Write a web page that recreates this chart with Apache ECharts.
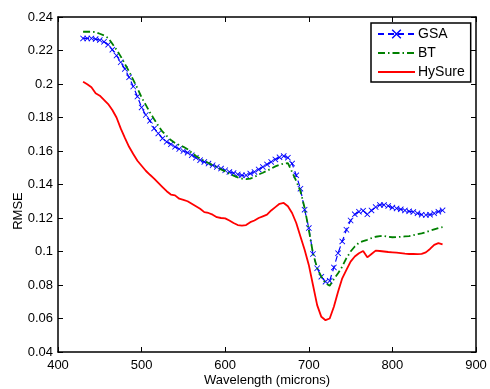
<!DOCTYPE html>
<html>
<head>
<meta charset="utf-8">
<script src="https://cdn.jsdelivr.net/npm/echarts@6/dist/echarts.min.js"></script>
<style>
html,body{margin:0;padding:0;background:#fff;}
#chart{width:490px;height:389px;}
</style>
</head>
<body>
<div id="chart"></div>
<script>
const wavelengths = [430,435,440,445,450,455,460,465,470,475,480,485,490,495,500,505,510,515,520,525,530,535,540,545,550,555,560,565,570,575,580,585,590,595,600,605,610,615,620,625,630,635,640,645,650,655,660,665,670,675,680,685,690,695,700,705,710,715,720,725,730,735,740,745,750,755,760,765,770,775,780,785,790,795,800,805,810,815,820,825,830,835,840,845,850,855,860];

const gsa = [0.2272,0.2272,0.2272,0.2268,0.2262,0.2252,0.2235,0.2205,0.2170,0.2130,0.2090,0.2040,0.1985,0.1925,0.1860,0.1815,0.1780,0.1735,0.1705,0.1675,0.1655,0.1640,0.1625,0.1612,0.1600,0.1590,0.1575,0.1560,0.1545,0.1535,0.1525,0.1515,0.1505,0.1495,0.1485,0.1475,0.1468,0.1460,0.1455,0.1455,0.1465,0.1475,0.1490,0.1505,0.1520,0.1535,0.1550,0.1562,0.1570,0.1560,0.1525,0.1455,0.1375,0.1250,0.1140,0.0985,0.0900,0.0850,0.0820,0.0825,0.0905,0.0990,0.1060,0.1130,0.1185,0.1222,0.1238,0.1244,0.1222,0.1245,0.1265,0.1278,0.1278,0.1272,0.1262,0.1257,0.1252,0.1245,0.1240,0.1236,0.1228,0.1220,0.1218,0.1220,0.1228,0.1238,0.1246];

const bt = [0.2312,0.2312,0.2312,0.2310,0.2300,0.2290,0.2275,0.2240,0.2205,0.2165,0.2120,0.2075,0.2025,0.1975,0.1920,0.1875,0.1830,0.1790,0.1750,0.1715,0.1690,0.1665,0.1648,0.1635,0.1625,0.1610,0.1590,0.1570,0.1555,0.1540,0.1528,0.1515,0.1505,0.1490,0.1478,0.1465,0.1453,0.1443,0.1435,0.1432,0.1435,0.1445,0.1460,0.1470,0.1482,0.1495,0.1508,0.1518,0.1525,0.1528,0.1475,0.1420,0.1360,0.1260,0.1130,0.0990,0.0900,0.0850,0.0810,0.0795,0.0835,0.0870,0.0910,0.0960,0.1000,0.1030,0.1052,0.1062,0.1070,0.1080,0.1088,0.1092,0.1093,0.1088,0.1085,0.1086,0.1088,0.1090,0.1092,0.1097,0.1103,0.1108,0.1115,0.1124,0.1132,0.1140,0.1145];

const hysure = [0.2013,0.1998,0.1980,0.1945,0.1930,0.1905,0.1880,0.1845,0.1800,0.1735,0.1678,0.1625,0.1582,0.1542,0.1512,0.1482,0.1458,0.1435,0.1410,0.1385,0.1360,0.1340,0.1335,0.1315,0.1308,0.1300,0.1285,0.1270,0.1255,0.1235,0.1230,0.1220,0.1205,0.1200,0.1198,0.1185,0.1170,0.1158,0.1155,0.1158,0.1175,0.1185,0.1200,0.1210,0.1220,0.1245,0.1265,0.1285,0.1290,0.1270,0.1230,0.1170,0.1090,0.1010,0.0920,0.0800,0.0680,0.0610,0.0590,0.0600,0.0670,0.0760,0.0840,0.0890,0.0940,0.0970,0.0990,0.1003,0.0965,0.0985,0.1005,0.1003,0.1000,0.0997,0.0995,0.0993,0.0990,0.0987,0.0985,0.0985,0.0984,0.0986,0.0995,0.1015,0.1040,0.1050,0.1042];

const seriesNames = ['GSA','BT','HySure'];
const xTicks = {min:400, max:900, step:100};
const yTicks = {min:0.04, max:0.24, step:0.02};
const xTitle = 'Wavelength (microns)';
const yTitle = 'RMSE';

const pairs = arr => wavelengths.map((w,i)=>[w, arr[i]]);
const FONT = 'Liberation Sans, Arial, Helvetica, sans-serif';
const crossPath = 'path://M0,1L1,0L5,4L9,0L10,1L6,5L10,9L9,10L5,6L1,10L0,9L4,5Z';

const chart = echarts.init(document.getElementById('chart'), null, {renderer:'canvas'});
chart.setOption({
  animation:false,
  backgroundColor:'#fff',
  grid:{left:58, right:14, top:17, bottom:37, containLabel:false, outerBoundsMode:'none'},
  xAxis:[{
    type:'value', min:xTicks.min, max:xTicks.max, interval:xTicks.step,
    axisLine:{show:true, onZero:false, lineStyle:{color:'#000', width:1.5}},
    axisTick:{show:true, inside:true, length:5, lineStyle:{color:'#000', width:1}},
    axisLabel:{color:'#000', fontSize:13, fontFamily:FONT, margin:7},
    splitLine:{show:false}
  },{
    type:'value', position:'top', min:xTicks.min, max:xTicks.max, interval:xTicks.step,
    axisLine:{show:true, onZero:false, lineStyle:{color:'#000', width:1.5}},
    axisTick:{show:true, inside:true, length:5, lineStyle:{color:'#000', width:1}},
    axisLabel:{show:false}, splitLine:{show:false}
  }],
  yAxis:[{
    type:'value', min:yTicks.min, max:yTicks.max, interval:yTicks.step,
    axisLine:{show:true, onZero:false, lineStyle:{color:'#000', width:1.5}},
    axisTick:{show:true, inside:true, length:5, lineStyle:{color:'#000', width:1}},
    axisLabel:{color:'#000', fontSize:13, fontFamily:FONT, margin:5,
      formatter: v => String(parseFloat(v.toFixed(2)))},
    splitLine:{show:false}
  },{
    type:'value', position:'right', min:yTicks.min, max:yTicks.max, interval:yTicks.step,
    axisLine:{show:true, onZero:false, lineStyle:{color:'#000', width:1.5}},
    axisTick:{show:true, inside:true, length:5, lineStyle:{color:'#000', width:1}},
    axisLabel:{show:false}, splitLine:{show:false}
  }],
  legend:{
    orient:'vertical', left:371, top:23,
    data:[
      {name:seriesNames[0]},
      {name:seriesNames[1], itemStyle:{opacity:0}},
      {name:seriesNames[2], itemStyle:{opacity:0}}
    ],
    itemWidth:37, itemHeight:12, itemGap:5,
    padding:[4,6,3,6],
    borderColor:'#000', borderWidth:1.5, backgroundColor:'#fff',
    textStyle:{color:'#000', fontSize:14, fontFamily:FONT, padding:[0,0,0,-2]}
  },
  graphic:[{
    type:'text', x:267, y:380,
    style:{text:xTitle, fill:'#000', font:'13px ' + FONT, align:'center', verticalAlign:'middle'}
  },{
    type:'text', x:18, y:211,
    rotation:Math.PI/2,
    style:{text:yTitle, fill:'#000', font:'13px ' + FONT, align:'center', verticalAlign:'middle'}
  }],
  series:[{
    name:seriesNames[0], type:'line', data:pairs(gsa),
    symbol:crossPath, symbolSize:6, showSymbol:true,
    lineStyle:{color:'#0000ff', width:1.2, type:[6,4]},
    itemStyle:{color:'#0000ff'}, z:2
  },{
    name:seriesNames[1], type:'line', data:pairs(bt),
    symbol:'none',
    lineStyle:{color:'#008000', width:1.8, type:[7,3,1.5,3]},
    itemStyle:{color:'#008000'}, z:3
  },{
    name:seriesNames[2], type:'line', data:pairs(hysure),
    symbol:'none',
    lineStyle:{color:'#ff0000', width:1.8},
    itemStyle:{color:'#ff0000'}, z:4
  }]
});
</script>
</body>
</html>
